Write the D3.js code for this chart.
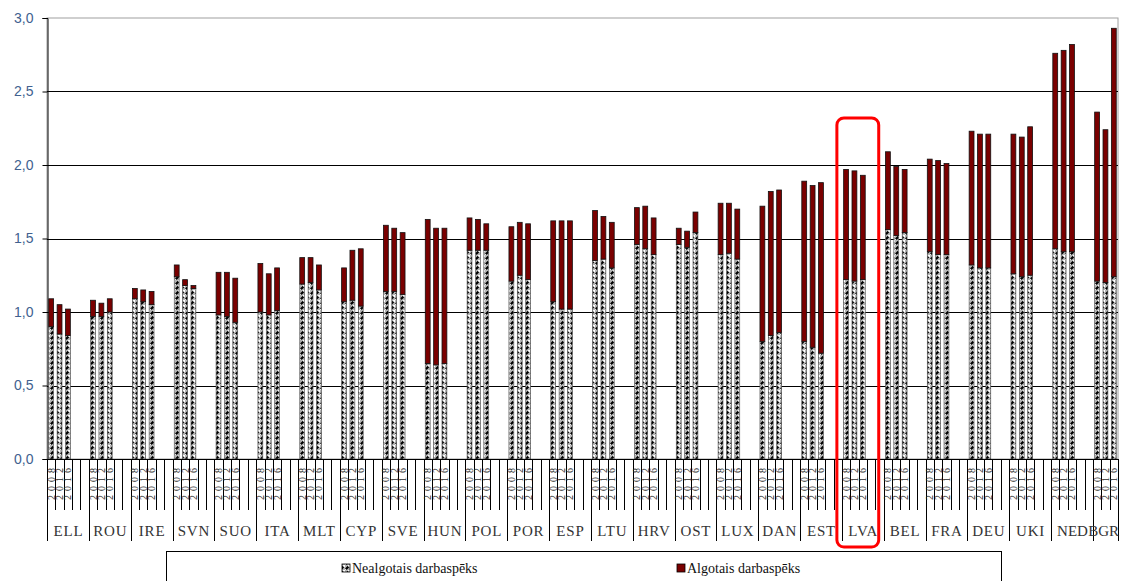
<!DOCTYPE html>
<html><head><meta charset="utf-8">
<script src="https://cdn.jsdelivr.net/npm/d3@7"></script>
<style>body{margin:0;background:#fff}svg{display:block}</style>
</head><body><svg id="c" width="1122" height="581"></svg>
<script>
const countries = ["ELL","ROU","IRE","SVN","SUO","ITA","MLT","CYP","SVE","HUN","POL","POR","ESP","LTU","HRV","OST","LUX","DAN","EST","LVA","BEL","FRA","DEU","UKI","NED","BGR"];
const years = ["2008","2012","2016"];
// total height (unpaid + paid) per country, per year
const totals = [
 [1.09,1.05,1.02],[1.08,1.06,1.09],[1.16,1.15,1.14],[1.32,1.22,1.18],[1.27,1.27,1.23],
 [1.33,1.26,1.30],[1.37,1.37,1.32],[1.30,1.42,1.43],[1.59,1.57,1.54],[1.63,1.57,1.57],
 [1.64,1.63,1.60],[1.58,1.61,1.60],[1.62,1.62,1.62],[1.69,1.65,1.61],[1.71,1.72,1.64],
 [1.57,1.55,1.68],[1.74,1.74,1.70],[1.72,1.82,1.83],[1.89,1.86,1.88],[1.97,1.96,1.93],
 [2.09,1.99,1.97],[2.04,2.03,2.01],[2.23,2.21,2.21],[2.21,2.19,2.26],[2.76,2.78,2.82],
 [2.36,2.24,2.93]];
// unpaid labour (Nealgotais darbaspēks)
const unpaid = [
 [0.90,0.85,0.84],[0.97,0.97,1.00],[1.09,1.07,1.05],[1.24,1.18,1.16],[0.98,0.97,0.93],
 [1.00,0.98,1.01],[1.19,1.20,1.15],[1.07,1.08,1.04],[1.14,1.14,1.12],[0.65,0.64,0.65],
 [1.42,1.42,1.42],[1.21,1.25,1.22],[1.07,1.02,1.02],[1.35,1.36,1.30],[1.46,1.43,1.39],
 [1.46,1.44,1.54],[1.39,1.40,1.36],[0.80,0.84,0.86],[0.80,0.76,0.72],[1.22,1.21,1.22],
 [1.56,1.52,1.54],[1.41,1.39,1.39],[1.32,1.30,1.30],[1.26,1.24,1.25],[1.43,1.41,1.41],
 [1.21,1.20,1.24]];
const yTicks = [0,0.5,1,1.5,2,2.5,3];
const seriesNames = ["Nealgotais darbaspēks","Algotais darbaspēks"];
const highlight = "LVA";

const svg = d3.select("#c");
const L=47, R=1118, T=18, B=459;
const slotsPerGroup = 5;
const slots = [];
countries.forEach((c,i)=>{ for(let j=0;j<slotsPerGroup;j++){ if(i===countries.length-1 && j>=3) break; slots.push(c+"|"+j);} });
const x = d3.scaleBand().domain(slots).range([L,R]).paddingInner(0.42).paddingOuter(0.21);
const step = x.step();
const y = d3.scaleLinear().domain([0,3]).range([B,T]);

// pattern
const defs = svg.append("defs");
const pat = defs.append("pattern").attr("id","hatch").attr("patternUnits","userSpaceOnUse").attr("width",5).attr("height",5);
pat.append("rect").attr("width",5).attr("height",5).attr("fill","#b5b5b5");
pat.append("path").attr("d","M-1,6 L6,-1").attr("stroke","#ffffff").attr("stroke-width",2.2);
pat.append("path").attr("d","M0.8,4.2 L3.4,1.6").attr("stroke","#000").attr("stroke-width",2.2);

// plot border
svg.append("rect").attr("x",L).attr("y",T).attr("width",R-L).attr("height",B-T).attr("fill","none").attr("stroke","#a0a0a0").attr("stroke-width",1);
// gridlines
svg.append("g").selectAll("line").data(yTicks.filter(v=>v>0&&v<3)).join("line")
  .attr("x1",L).attr("x2",R).attr("y1",d=>Math.round(y(d))+0.5).attr("y2",d=>Math.round(y(d))+0.5)
  .attr("stroke","#000").attr("stroke-width",1);

// y axis
const yAxis = d3.axisLeft(y).tickValues(yTicks).tickSize(5).tickPadding(9)
  .tickFormat(d=>d3.format(".1f")(d).replace(".",","));
const ga = svg.append("g").attr("transform",`translate(${L+0.5},0)`).call(yAxis);
ga.select(".domain").attr("stroke","#000");
ga.selectAll(".tick line").attr("stroke","#000");
ga.selectAll("text").attr("fill","#41618f").attr("font-family","Liberation Sans, Arial, sans-serif").attr("font-size",14);

// bars
const rows = [];
countries.forEach((c,i)=>years.forEach((yr,j)=>rows.push({c,j,u:unpaid[i][j],t:totals[i][j]})));
const bw = Math.max(4, x.bandwidth());
const bars = svg.append("g");
bars.selectAll("rect.u").data(rows).join("rect").attr("class","u")
  .attr("x",d=>x(d.c+"|"+d.j)).attr("width",bw)
  .attr("y",d=>y(d.u)).attr("height",d=>y(0)-y(d.u))
  .attr("fill","url(#hatch)").attr("stroke","#555").attr("stroke-width",0.7);
bars.selectAll("rect.p").data(rows).join("rect").attr("class","p")
  .attr("x",d=>x(d.c+"|"+d.j)).attr("width",bw)
  .attr("y",d=>y(d.t)).attr("height",d=>y(d.u)-y(d.t))
  .attr("fill","#7a0000").attr("stroke","#111").attr("stroke-width",0.8);

// x axis line
svg.append("line").attr("x1",L).attr("x2",R).attr("y1",B+0.5).attr("y2",B+0.5).attr("stroke","#000");
// slot boundary ticks and group separators
const gx = svg.append("g");
slots.forEach((s,k)=>{
  const xs = Math.round(L + k*step)+0.5;
  const isGroup = s.endsWith("|0");
  gx.append("line").attr("x1",xs).attr("x2",xs).attr("y1",B).attr("y2",isGroup?541:510).attr("stroke","#000");
});
gx.append("line").attr("x1",R+0.5).attr("x2",R+0.5).attr("y1",B).attr("y2",541).attr("stroke","#000");

// year labels (rotated)
const yl = svg.append("g");
rows.forEach(d=>{
  const cx = x(d.c+"|"+d.j)+bw/2;
  yl.append("text").attr("transform",`translate(${cx+3.5},464) rotate(-90)`)
    .attr("text-anchor","end").attr("font-family","Liberation Serif, Times New Roman, serif")
    .attr("font-size",10).attr("letter-spacing",4).attr("fill","#2a2a2a").text(years[d.j]);
});

// country labels
countries.forEach((c,i)=>{
  const first = x(c+"|0") - (x.step()-x.bandwidth())/2;
  const n = slots.filter(s=>s.startsWith(c+"|")).length;
  let cx = first + n*step/2;
  const last = i===countries.length-1;
  svg.append("text").attr("x",last?R+1:cx+0.5).attr("y",536).attr("text-anchor",last?"end":"middle")
    .attr("font-family","Liberation Serif, Times New Roman, serif").attr("font-size",15)
    .attr("letter-spacing",(last||i===countries.length-2)?0:0.8).attr("fill","#333").text(c);
});

// highlight
const hi = countries.indexOf(highlight);
const hx = L + hi*slotsPerGroup*step - 5;
svg.append("rect").attr("x",hx).attr("y",y(2.32)).attr("width",slotsPerGroup*step).attr("height",547-y(2.32))
  .attr("rx",7).attr("fill","none").attr("stroke","#ff0000").attr("stroke-width",3);

// legend
svg.append("rect").attr("x",166.5).attr("y",551.5).attr("width",835).attr("height",60).attr("fill","#fff").attr("stroke","#000");
const leg = [{x:342,fill:"url(#hatch)",name:seriesNames[0]},{x:677,fill:"#7a0000",name:seriesNames[1]}];
leg.forEach(l=>{
  svg.append("rect").attr("x",l.x).attr("y",564).attr("width",8).attr("height",8).attr("fill",l.fill).attr("stroke","#000").attr("stroke-width",0.8);
  svg.append("text").attr("x",l.x+10).attr("y",573).attr("font-family","Liberation Serif, Times New Roman, serif")
    .attr("font-size",14).attr("fill","#111").text(l.name);
});
</script></body></html>
